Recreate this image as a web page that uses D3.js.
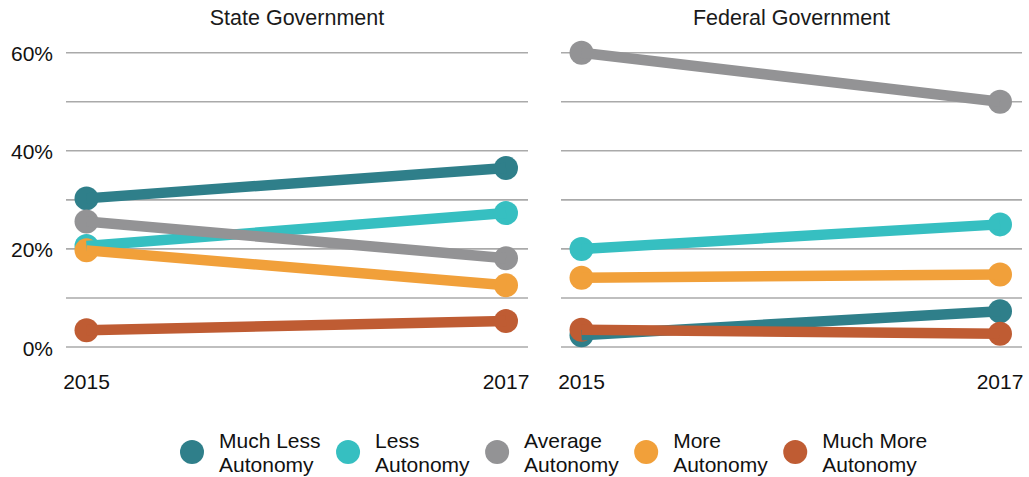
<!DOCTYPE html>
<html>
<head>
<meta charset="utf-8">
<script src="https://cdn.jsdelivr.net/npm/d3@7"></script>
<style>
  html, body { margin: 0; padding: 0; background: #fff; }
  svg { display: block; font-family: "Liberation Sans", Arial, Helvetica, sans-serif; }
</style>
</head>
<body>
<svg id="chart" width="1029" height="477"></svg>
<script>
// ---- data ----
const years = ["2015", "2017"];
const categories = ["Much Less Autonomy", "Less Autonomy", "Average Autonomy", "More Autonomy", "Much More Autonomy"];
const colors = ["#2f7f8a", "#36bfc1", "#939395", "#f1a03a", "#bf5c33"];
const panelTitles = ["State Government", "Federal Government"];
const stateValues = [
  [30.3, 36.5],
  [20.6, 27.3],
  [25.6, 18.1],
  [19.7, 12.6],
  [3.4, 5.3]
];
const federalValues = [
  [2.4, 7.3],
  [20.0, 25.0],
  [60.0, 50.0],
  [14.1, 14.8],
  [3.5, 2.7]
];
const gridValues = [0, 10, 20, 30, 40, 50, 60];
const yTickValues = [0, 20, 40, 60];

// ---- layout ----
const svg = d3.select("#chart");
const yTop = 52.7, yBottom = 347;
const y = d3.scaleLinear().domain([0, 60]).range([yBottom, yTop]);
const panels = [
  { title: panelTitles[0], values: stateValues, x0: 66, x1: 528 },
  { title: panelTitles[1], values: federalValues, x0: 561, x1: 1022 }
];

panels.forEach((p, pi) => {
  const g = svg.append("g");
  const x = d3.scalePoint().domain(years).range([p.x0 + 20.5, p.x1 - 22]);

  // gridlines
  g.append("g").selectAll("line").data(gridValues).join("line")
    .attr("x1", p.x0).attr("x2", p.x1)
    .attr("y1", d => y(d)).attr("y2", d => y(d))
    .attr("stroke", "#aaaaaa").attr("stroke-width", 1.6);

  // title
  g.append("text")
    .attr("x", (p.x0 + p.x1) / 2).attr("y", 25)
    .attr("text-anchor", "middle")
    .attr("font-size", 21.5).attr("fill", "#1a1a1a")
    .text(p.title);

  // x labels
  g.append("g").selectAll("text").data(years).join("text")
    .attr("x", d => x(d)).attr("y", 389)
    .attr("text-anchor", "middle")
    .attr("font-size", 21).attr("fill", "#111")
    .text(d => d);

  // y tick labels (left panel only)
  if (pi === 0) {
    g.append("g").selectAll("text").data(yTickValues).join("text")
      .attr("x", 53).attr("y", d => y(d) + 8.5)
      .attr("text-anchor", "end")
      .attr("font-size", 21).attr("fill", "#111")
      .text(d => d + "%");
  }

  const series = p.values.map((vals, i) => ({
    i, pts: vals.map((v, j) => ({ year: years[j], v }))
  }));

  // circles first
  const cg = g.append("g");
  series.forEach(s => {
    cg.append("g").selectAll("circle").data(s.pts).join("circle")
      .attr("cx", d => x(d.year)).attr("cy", d => y(d.v))
      .attr("r", 12).attr("fill", colors[s.i]);
  });

  // then lines
  const line = d3.line().x(d => x(d.year)).y(d => y(d.v));
  const lg = g.append("g");
  series.forEach(s => {
    lg.append("path").datum(s.pts)
      .attr("d", line)
      .attr("fill", "none")
      .attr("stroke", colors[s.i])
      .attr("stroke-width", 10.5);
  });
});

// ---- legend ----
const legend = svg.append("g");
let cx = 192;
categories.forEach((c, i) => {
  const item = legend.append("g");
  item.append("circle").attr("cx", cx).attr("cy", 452).attr("r", 12).attr("fill", colors[i]);
  const first = c.replace(/ Autonomy$/, "");
  const t1 = item.append("text").attr("x", cx + 27).attr("y", 447.7)
    .attr("font-size", 21).attr("fill", "#111").text(first);
  const t2 = item.append("text").attr("x", cx + 27).attr("y", 471.7)
    .attr("font-size", 21).attr("fill", "#111").text("Autonomy");
  const w = Math.max(t1.node().getComputedTextLength(), t2.node().getComputedTextLength());
  cx = cx + 27 + w + 27.5;
});
</script>
</body>
</html>
